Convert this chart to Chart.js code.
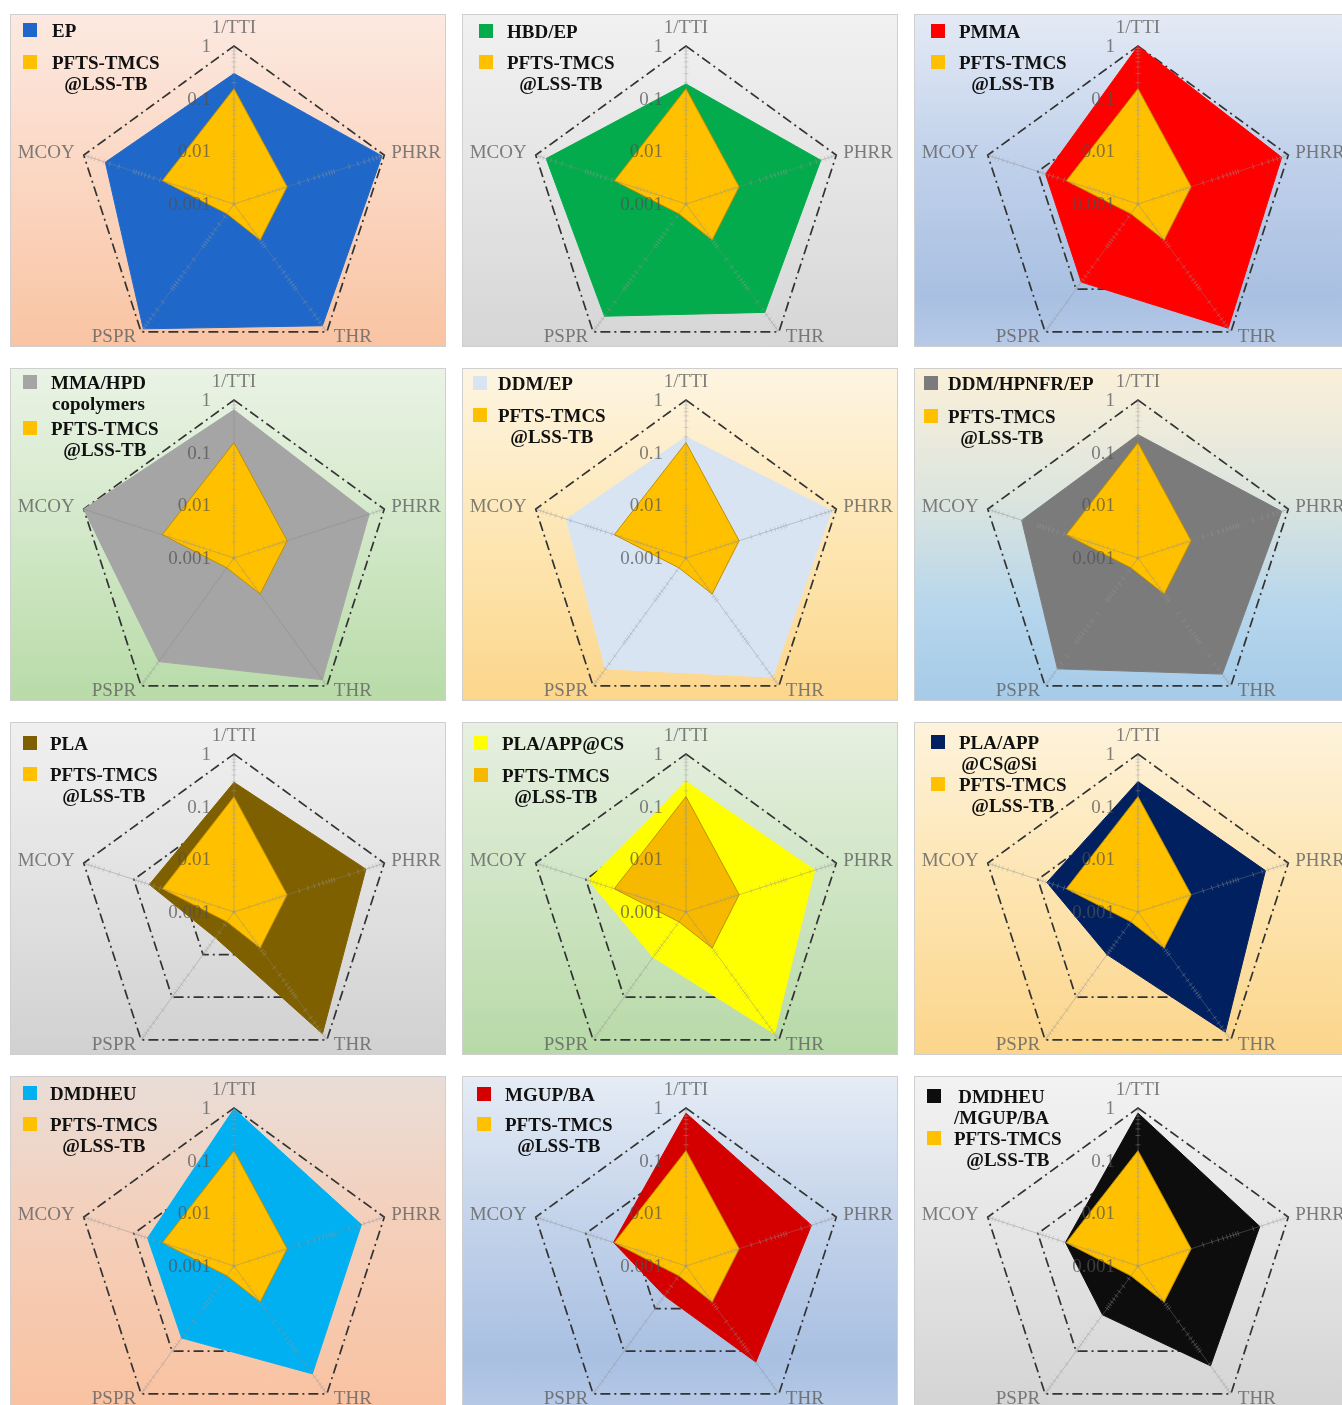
<!DOCTYPE html>
<html>
<head>
<meta charset="utf-8">
<script src="https://cdn.jsdelivr.net/npm/chart.js@4.4.1/dist/chart.umd.min.js"></script>
<style>
  html, body { margin: 0; padding: 0; background: #fff; width: 1342px; height: 1405px; overflow: hidden; position: relative; }
  .panel { position: absolute; width: 434px; height: 331px; outline: 1px solid #cfcfcf; }
  .panel canvas { position: absolute; left: 0; top: 0; }
  .leg { position: absolute; font: bold 19px "Liberation Serif", "Times New Roman", serif; color: #111; line-height: 21px; text-align: center; white-space: nowrap; }
  .sq { position: absolute; width: 14px; height: 14px; }
</style>
</head>
<body>
<script>
// Ejes del radar (escala logarítmica 0.001 - 1)
const axes = ['1/TTI', 'PHRR', 'THR', 'PSPR', 'MCOY'];
const tickLabels = ['0.001', '0.01', '0.1', '1'];

// Serie de referencia, igual en todos los paneles
const pftsLabel = ['PFTS-TMCS', '@LSS-TB'];
const pftsValues = [0.155, 0.0115, 0.007, 0.0017, 0.027];

// Series de comparación (orden: 1/TTI, PHRR, THR, PSPR, MCOY)
const epValues = [0.30, 0.90, 0.72, 0.85, 0.37];
const hbdEpValues = [0.19, 0.49, 0.35, 0.43, 0.62];
const pmmaValues = [1.0, 0.74, 0.82, 0.068, 0.07];
const mmaHpdValues = [0.65, 0.50, 0.72, 0.27, 1.0];
const ddmEpValues = [0.20, 0.80, 0.63, 0.40, 0.245];
const ddmHpnfrEpValues = [0.22, 0.74, 0.53, 0.40, 0.21];
const plaValues = [0.29, 0.43, 0.72, 0.004, 0.049];
const plaAppCsValues = [0.30, 0.37, 0.72, 0.0115, 0.088];
const plaAppCsSiValues = [0.30, 0.35, 0.66, 0.010, 0.066];
const dmdheuValues = [0.97, 0.35, 0.34, 0.049, 0.053];
const mgupBaValues = [0.80, 0.32, 0.18, 0.005, 0.028];
const dmdheuMgupBaValues = [0.80, 0.27, 0.22, 0.014, 0.028];

// Paneles: etiqueta de leyenda, datos, color y fondo
const panels = [
  { lines: ['EP'], values: epValues, color: '#1f68c9',
    bg: 'linear-gradient(180deg, #fce9e1 0%, #fbd8c5 45%, #f9c4a3 100%)' },
  { lines: ['HBD/EP'], values: hbdEpValues, color: '#03ab4c',
    bg: 'linear-gradient(180deg, #f1f1f1 0%, #e3e3e3 55%, #d6d6d6 100%)' },
  { lines: ['PMMA'], values: pmmaValues, color: '#ff0000',
    bg: 'linear-gradient(180deg, #e4eaf5 0%, #bfd0ea 45%, #a9c0e2 85%, #b6c9e7 100%)' },
  { lines: ['MMA/HPD', 'copolymers'], values: mmaHpdValues, color: '#a5a5a5',
    bg: 'linear-gradient(180deg, #eaf3e5 0%, #d2e8c8 50%, #b8dba8 100%)' },
  { lines: ['DDM/EP'], values: ddmEpValues, color: '#d9e4f3',
    bg: 'linear-gradient(180deg, #fdf5e2 0%, #fde5b0 55%, #fcd68b 100%)' },
  { lines: ['DDM/HPNFR/EP'], values: ddmHpnfrEpValues, color: '#7b7b7b',
    bg: 'linear-gradient(180deg, #fbf0d9 0%, #dde5de 38%, #b6d6ec 72%, #a6cbe8 100%)' },
  { lines: ['PLA'], values: plaValues, color: '#7f6000',
    bg: 'linear-gradient(180deg, #f0f0f0 0%, #e0e0e0 55%, #d1d1d1 100%)' },
  { lines: ['PLA/APP@CS'], values: plaAppCsValues, color: '#ffff00', pfts: '#f7b800',
    bg: 'linear-gradient(180deg, #e7f0e1 0%, #cfe5c4 50%, #b7d9a7 100%)' },
  { lines: ['PLA/APP', '@CS@Si'], values: plaAppCsSiValues, color: '#002060',
    bg: 'linear-gradient(180deg, #fdf3db 0%, #fde3ad 55%, #fbd58b 100%)' },
  { lines: ['DMDHEU'], values: dmdheuValues, color: '#00b0f0',
    bg: 'linear-gradient(180deg, #e9ddd7 0%, #f4cfba 45%, #f9c2a1 100%)' },
  { lines: ['MGUP/BA'], values: mgupBaValues, color: '#d40000',
    bg: 'linear-gradient(180deg, #e5ecf5 0%, #c2d2ea 45%, #a9c0e2 85%, #b6c9e7 100%)' },
  { lines: ['DMDHEU', '/MGUP/BA'], values: dmdheuMgupBaValues, color: '#0d0d0d',
    bg: 'linear-gradient(180deg, #f2f2f2 0%, #e3e3e3 55%, #d4d4d4 100%)' }
];

// Posición de la leyenda en cada panel: [x cuadro, x texto, y serie, y PFTS]
const legendLayout = [
  [12, 41, 15, 47], [16, 44, 16, 47], [16, 44, 16, 47],
  [12, 40, 13, 59], [10, 35, 14, 46], [9, 33, 14, 47],
  [12, 39, 20, 51], [11, 39, 20, 52], [16, 44, 19, 61],
  [12, 39, 16, 47], [14, 42, 17, 47], [12, 39, 19, 61]
];

// Valor -> décadas sobre 0.001 (la escala radial es lineal en log10)
const toR = v => Math.log10(v) + 3;

// Posición de las etiquetas de los ejes respecto al vértice
const labelPos = [
  { align: 'center', dx: 0, dy: -18 },
  { align: 'left', dx: 7, dy: -2 },
  { align: 'left', dx: 7, dy: 5 },
  { align: 'right', dx: -5, dy: 5 },
  { align: 'right', dx: -9, dy: -2 }
];

// Rejilla punto-raya bajo las series, ejes y textos encima
const radarDecor = {
  id: 'radarDecor',
  beforeDatasetsDraw(chart) {
    const r = chart.scales.r;
    const ctx = chart.ctx;
    ctx.save();
    ctx.strokeStyle = '#333333';
    ctx.lineWidth = 1.7;
    ctx.setLineDash([10, 4, 2, 4]);
    for (let d = 1; d <= 3; d++) {
      ctx.beginPath();
      axes.forEach((a, i) => {
        const p = r.getPointPositionForValue(i, d);
        if (i === 0) ctx.moveTo(p.x, p.y);
        else ctx.lineTo(p.x, p.y);
      });
      ctx.closePath();
      ctx.stroke();
    }
    ctx.restore();
  },
  afterDatasetsDraw(chart) {
    const r = chart.scales.r;
    const ctx = chart.ctx;
    const c = r.getPointPositionForValue(0, 0);
    ctx.save();
    ctx.lineWidth = 1;
    axes.forEach((a, i) => {
      const end = r.getPointPositionForValue(i, 3);
      ctx.strokeStyle = 'rgba(130,130,130,0.4)';
      ctx.beginPath();
      ctx.moveTo(c.x, c.y);
      ctx.lineTo(end.x, end.y);
      ctx.stroke();
      ctx.strokeStyle = 'rgba(160,160,160,0.4)';
      const nx = -Math.sin(end.angle), ny = Math.cos(end.angle);
      for (let d = 0; d < 3; d++) {
        for (let m = 1; m <= 9; m++) {
          const p = r.getPointPositionForValue(i, d + Math.log10(m));
          ctx.beginPath();
          ctx.moveTo(p.x - nx * 2.5, p.y - ny * 2.5);
          ctx.lineTo(p.x + nx * 2.5, p.y + ny * 2.5);
          ctx.stroke();
        }
      }
    });

    ctx.font = '19px "Liberation Serif", "Times New Roman", serif';
    ctx.textBaseline = 'middle';

    // Etiquetas de la escala
    ctx.fillStyle = 'rgba(80,80,80,0.72)';
    ctx.textAlign = 'right';
    tickLabels.forEach((t, d) => {
      const p = r.getPointPositionForValue(0, d);
      ctx.fillText(t, p.x - 23, p.y + 1);
    });

    // Etiquetas de los ejes
    ctx.fillStyle = 'rgba(95,95,95,0.8)';
    axes.forEach((a, i) => {
      const p = r.getPointPositionForValue(i, 3);
      const pos = labelPos[i];
      ctx.textAlign = pos.align;
      ctx.fillText(a, p.x + pos.dx, p.y + pos.dy);
    });
    ctx.restore();
  }
};

function addLegendEntry(div, lines, color, sqX, textX, yc) {
  const sq = document.createElement('div');
  sq.className = 'sq';
  sq.style.left = sqX + 'px';
  sq.style.top = (yc - 7) + 'px';
  sq.style.background = color;
  div.appendChild(sq);

  const txt = document.createElement('div');
  txt.className = 'leg';
  txt.style.left = textX + 'px';
  txt.style.top = (yc - 10.5) + 'px';
  lines.forEach((l, j) => {
    if (j) txt.appendChild(document.createElement('br'));
    txt.appendChild(document.createTextNode(l));
  });
  div.appendChild(txt);
}

panels.forEach((p, k) => {
  const col = k % 3;
  const row = Math.floor(k / 3);
  const div = document.createElement('div');
  div.className = 'panel';
  div.style.left = (11 + col * 452) + 'px';
  div.style.top = (15 + row * 354) + 'px';
  div.style.background = p.bg;
  document.body.appendChild(div);

  const canvas = document.createElement('canvas');
  canvas.width = 434;
  canvas.height = 380;
  div.appendChild(canvas);

  const pftsColor = p.pfts || '#ffc000';
  const lay = legendLayout[k];
  addLegendEntry(div, p.lines, p.color, lay[0], lay[1], lay[2]);
  addLegendEntry(div, pftsLabel, pftsColor, lay[0], lay[1], lay[3]);

  new Chart(canvas, {
    type: 'radar',
    data: {
      labels: axes,
      datasets: [
        {
          label: pftsLabel.join(''),
          data: pftsValues.map(toR),
          backgroundColor: pftsColor,
          borderColor: '#bf9000',
          borderWidth: 1,
          fill: 'start',
          pointRadius: 0
        },
        {
          label: p.lines.join(' '),
          data: p.values.map(toR),
          backgroundColor: p.color,
          borderColor: p.color,
          borderWidth: 1,
          fill: 'start',
          pointRadius: 0
        }
      ]
    },
    options: {
      responsive: false,
      animation: false,
      devicePixelRatio: 1,
      layout: { padding: { left: 65, top: 31, right: 52, bottom: 32 } },
      elements: { line: { tension: 0 } },
      plugins: {
        legend: { display: false },
        tooltip: { enabled: false }
      },
      scales: {
        r: {
          min: 0,
          max: 3,
          ticks: { display: false, stepSize: 1 },
          grid: { display: false },
          angleLines: { display: false },
          pointLabels: { display: false }
        }
      }
    },
    plugins: [radarDecor]
  });
});
</script>
</body>
</html>
